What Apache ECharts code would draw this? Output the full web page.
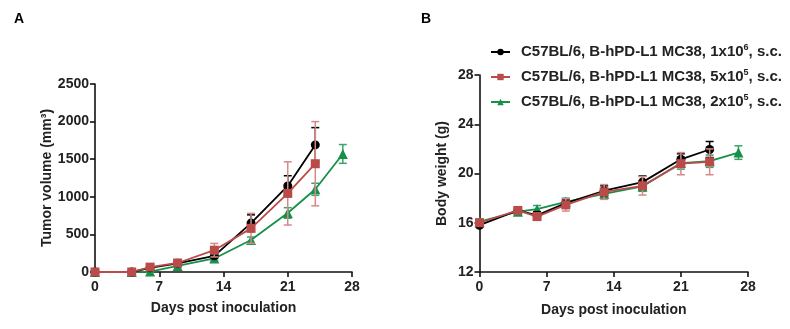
<!DOCTYPE html>
<html>
<head>
<meta charset="utf-8">
<script src="https://cdn.jsdelivr.net/npm/echarts@6/dist/echarts.min.js"></script>
<style>
  html, body { margin: 0; padding: 0; background: #fff; }
  #chart { width: 790px; height: 329px; }
</style>
</head>
<body>
<div id="chart"></div>
<script>
// Measurement days
const daysShort = [0, 4, 6, 9, 13, 17, 21, 24];
const daysLong = [0, 4, 6, 9, 13, 17, 21, 24, 27];

// Tumor volume (mm3), mean and SEM
const tumor1e6 = [0, 0, 55, 115, 215, 650, 1145, 1690];
const tumor1e6Err = [0, 0, 10, 15, 30, 110, 135, 230];
const tumor5e5 = [0, 0, 65, 120, 290, 580, 1045, 1440];
const tumor5e5Err = [0, 0, 12, 20, 90, 200, 420, 560];
const tumor2e5 = [0, 0, 5, 80, 180, 425, 785, 1100, 1570];
const tumor2e5Err = [0, 0, 5, 15, 25, 40, 70, 80, 125];

// Body weight (g), mean and SEM
const weight1e6 = [15.8, 17.0, 16.6, 17.6, 18.6, 19.3, 21.15, 21.95];
const weight1e6Err = [0.15, 0.2, 0.3, 0.3, 0.4, 0.5, 0.45, 0.65];
const weight5e5 = [16.0, 17.0, 16.5, 17.45, 18.5, 19.0, 20.8, 20.95];
const weight5e5Err = [0.2, 0.3, 0.3, 0.5, 0.6, 0.75, 0.9, 1.05];
const weight2e5 = [16.1, 16.9, 17.1, 17.7, 18.35, 18.95, 20.85, 21.0, 21.7];
const weight2e5Err = [0.2, 0.2, 0.3, 0.3, 0.4, 0.4, 0.5, 0.5, 0.55];

const groups = [
  { name: 'C57BL/6, B-hPD-L1 MC38, 1x10^6, s.c.', label: 'C57BL/6, B-hPD-L1 MC38, 1x10{sup|6}, s.c.', color: '#000000', errColor: '#000000', symbol: 'circle', size: 9,
    days: daysShort, tumor: tumor1e6, tumorErr: tumor1e6Err, weight: weight1e6, weightErr: weight1e6Err, z: 3 },
  { name: 'C57BL/6, B-hPD-L1 MC38, 5x10^5, s.c.', label: 'C57BL/6, B-hPD-L1 MC38, 5x10{sup|5}, s.c.', color: '#b94c4a', errColor: '#d58a88', symbol: 'rect', size: 9,
    days: daysShort, tumor: tumor5e5, tumorErr: tumor5e5Err, weight: weight5e5, weightErr: weight5e5Err, z: 4 },
  { name: 'C57BL/6, B-hPD-L1 MC38, 2x10^5, s.c.', label: 'C57BL/6, B-hPD-L1 MC38, 2x10{sup|5}, s.c.', color: '#17904a', errColor: '#3aa46a', symbol: 'triangle', size: 10,
    days: daysLong, tumor: tumor2e5, tumorErr: tumor2e5Err, weight: weight2e5, weightErr: weight2e5Err, z: 2 }
];

const FONT = '"Liberation Sans", Arial, sans-serif';

function errorBars(idx, days, mean, err, color, z) {
  return {
    type: 'custom',
    xAxisIndex: idx,
    yAxisIndex: idx,
    z: z,
    silent: true,
    data: days.map((d, i) => [d, mean[i] - err[i], mean[i] + err[i]]),
    renderItem: function (params, api) {
      const x = api.value(0);
      const lo = api.coord([x, api.value(1)]);
      const hi = api.coord([x, api.value(2)]);
      const cap = 4;
      const style = { stroke: color, lineWidth: 1.5, fill: null };
      return {
        type: 'group',
        children: [
          { type: 'line', shape: { x1: lo[0], y1: lo[1], x2: hi[0], y2: hi[1] }, style: style },
          { type: 'line', shape: { x1: hi[0] - cap, y1: hi[1], x2: hi[0] + cap, y2: hi[1] }, style: style },
          { type: 'line', shape: { x1: lo[0] - cap, y1: lo[1], x2: lo[0] + cap, y2: lo[1] }, style: style }
        ]
      };
    }
  };
}

function lineSeries(idx, g, values) {
  return {
    type: 'line',
    name: g.name,
    xAxisIndex: idx,
    yAxisIndex: idx,
    z: g.z + 0.5,
    data: g.days.map((d, i) => [d, values[i]]),
    symbol: g.symbol,
    symbolSize: g.size,
    showAllSymbol: true,
    lineStyle: { color: g.color, width: 1.8 },
    itemStyle: { color: g.color },
    emphasis: { disabled: true }
  };
}

const series = [];
groups.forEach(g => {
  series.push(errorBars(0, g.days, g.tumor, g.tumorErr, g.errColor, g.z));
  series.push(lineSeries(0, g, g.tumor));
  series.push(errorBars(1, g.days, g.weight, g.weightErr, g.errColor, g.z));
  series.push(lineSeries(1, g, g.weight));
});

const axisLineStyle = { color: '#111', width: 1.6 };
const tickLabel = { color: '#222', fontFamily: FONT, fontWeight: 'bold', fontSize: 14, formatter: v => String(v) };
const nameStyle = { color: '#222', fontFamily: FONT, fontWeight: 'bold', fontSize: 14 };

function xAxis(gridIndex, gap) {
  return {
    type: 'value', gridIndex: gridIndex, min: 0, max: 28, interval: 7,
    name: 'Days post inoculation', nameLocation: 'middle', nameGap: gap, nameTextStyle: nameStyle,
    axisLine: { show: true, onZero: false, lineStyle: axisLineStyle },
    axisTick: { show: true, length: 5, lineStyle: axisLineStyle },
    axisLabel: { ...tickLabel, margin: 8 },
    splitLine: { show: false }
  };
}

function yAxis(gridIndex, min, max, interval, name, gap) {
  return {
    type: 'value', gridIndex: gridIndex, min: min, max: max, interval: interval,
    name: name, nameLocation: 'middle', nameGap: gap, nameTextStyle: nameStyle,
    axisLine: { show: true, onZero: false, lineStyle: axisLineStyle },
    axisTick: { show: true, length: 5, lineStyle: axisLineStyle },
    axisLabel: { ...tickLabel, margin: 6 },
    splitLine: { show: false }
  };
}

const chart = echarts.init(document.getElementById('chart'), null, { renderer: 'canvas' });
chart.setOption({
  backgroundColor: '#ffffff',
  animation: false,
  textStyle: { fontFamily: FONT },
  grid: [
    { left: 95, right: 438, top: 84, bottom: 57 },
    { left: 479.5, right: 42, top: 75, bottom: 57 }
  ],
  xAxis: [xAxis(0, 29), xAxis(1, 31)],
  yAxis: [
    yAxis(0, 0, 2500, 500, 'Tumor volume (mm³)', 41),
    yAxis(1, 12, 28, 4, 'Body weight (g)', 30)
  ],
  legend: {
    orient: 'vertical',
    left: 485,
    top: 38,
    itemWidth: 19,
    itemHeight: 8,
    itemGap: 7,
    data: groups.map(g => g.name),
    formatter: function (name) {
      return groups.find(x => x.name === name).label;
    },
    textStyle: {
      color: '#222', fontFamily: FONT, fontWeight: 'bold', fontSize: 15, lineHeight: 18,
      padding: [0, 0, 0, 6],
      rich: {
        sup: { fontSize: 9, fontWeight: 'bold', fontFamily: FONT, color: '#222', lineHeight: 18, verticalAlign: 'top', padding: [0, 0, 7, 0] }
      }
    }
  },
  graphic: [
    { type: 'text', left: 14, top: 12, style: { text: 'A', font: 'bold 14px ' + FONT, fill: '#000' } },
    { type: 'text', left: 421, top: 12, style: { text: 'B', font: 'bold 14px ' + FONT, fill: '#000' } }
  ],
  series: series
});
</script>
</body>
</html>
